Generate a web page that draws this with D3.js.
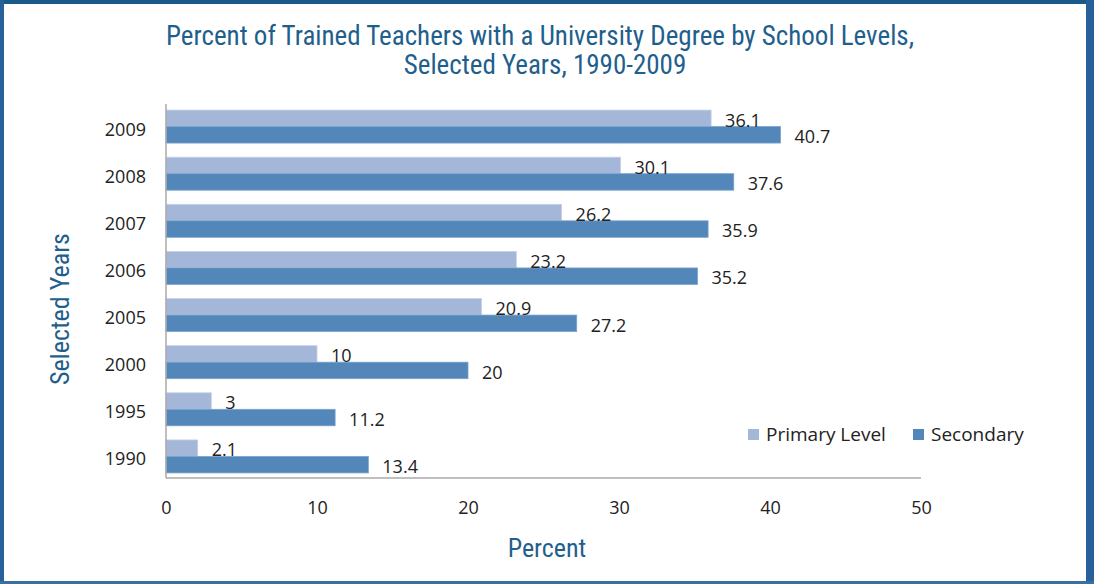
<!DOCTYPE html>
<html>
<head>
<meta charset="utf-8">
<script src="https://cdn.jsdelivr.net/npm/d3@7"></script>
<style>
  body { margin: 0; background: #fff; }
  svg { display: block; }
</style>
</head>
<body>
<svg width="1094" height="584"></svg>
<script>
// data
var years = ['2009', '2008', '2007', '2006', '2005', '2000', '1995', '1990'];
var primary = [36.1, 30.1, 26.2, 23.2, 20.9, 10, 3, 2.1];
var secondary = [40.7, 37.6, 35.9, 35.2, 27.2, 20, 11.2, 13.4];
var seriesNames = ['Primary Level', 'Secondary'];
var xTicks = [0, 10, 20, 30, 40, 50];

var svg = d3.select('svg');
var titleFont = '"Liberation Sans Narrow", "Roboto Condensed", sans-serif';
var labelFont = '"Open Sans", Lato, sans-serif';
var blue = '#1f5f8d';
var colors = ['#a4b7d9', '#5386b9'];

// frame
svg.append('rect').attr('width', 1094).attr('height', 584).attr('fill', '#fff');
svg.append('rect').attr('x', 0).attr('y', 0).attr('width', 1094).attr('height', 4).attr('fill', '#1a5a8a');
svg.append('rect').attr('x', 0).attr('y', 0).attr('width', 4).attr('height', 584).attr('fill', '#28609a');
svg.append('rect').attr('x', 1086).attr('y', 0).attr('width', 8).attr('height', 584).attr('fill', '#28609a');
svg.append('rect').attr('x', 0).attr('y', 581).attr('width', 1094).attr('height', 3).attr('fill', '#3a6fa2');

var x = d3.scaleLinear().domain([0, 50]).range([166, 921]);
var y = d3.scaleBand().domain(years).range([103, 480]).paddingInner(0.3).paddingOuter(0.15);
var inner = d3.scaleBand().domain([0, 1]).range([0, y.bandwidth()]);

var rows = years.map(function(yr, i) {
  return { year: yr, vals: [primary[i], secondary[i]] };
});

var g = svg.selectAll('g.row')
  .data(rows)
  .enter()
  .append('g')
  .attr('class', 'row')
  .attr('transform', function(d) { return 'translate(0,' + y(d.year) + ')'; });

g.selectAll('rect')
  .data(function(d) { return d.vals; })
  .enter()
  .append('rect')
  .attr('x', x(0))
  .attr('y', function(d, i) { return inner(i); })
  .attr('width', function(d) { return x(d) - x(0); })
  .attr('height', inner.bandwidth())
  .attr('fill', function(d, i) { return colors[i]; })
  .attr('stroke', function(d, i) { return i ? '#7aa3cc' : '#c3d0e6'; })
  .attr('stroke-width', 0.8);

g.selectAll('text')
  .data(function(d) { return d.vals; })
  .enter()
  .append('text')
  .attr('x', function(d) { return x(d) + 14; })
  .attr('y', function(d, i) { return inner(i) + inner.bandwidth(); })
  .attr('font-family', labelFont)
  .attr('font-size', 18)
  .attr('fill', '#222')
  .text(function(d) { return d; });

// axes
var xAxis = svg.append('g')
  .attr('transform', 'translate(0,478)')
  .call(d3.axisBottom(x).tickValues(xTicks).tickSize(0).tickPadding(23));
xAxis.select('.domain').remove();
xAxis.selectAll('text').attr('font-family', labelFont).attr('font-size', 18).attr('fill', '#222');

var yAxis = svg.append('g')
  .attr('transform', 'translate(166,0)')
  .call(d3.axisLeft(y).tickSize(0).tickPadding(20));
yAxis.select('.domain').remove();
yAxis.selectAll('text').attr('font-family', labelFont).attr('font-size', 18).attr('fill', '#222')
  .attr('dy', '0.5em');

svg.append('line').attr('x1', 166).attr('x2', 921).attr('y1', 478).attr('y2', 478)
  .attr('stroke', '#aaa').attr('stroke-width', 1.5);
svg.append('line').attr('x1', 166).attr('x2', 166).attr('y1', 104).attr('y2', 478)
  .attr('stroke', '#aaa').attr('stroke-width', 1.5);

// titles
var title = svg.append('text')
  .attr('text-anchor', 'middle')
  .attr('font-family', titleFont)
  .attr('font-size', 27)
  .attr('fill', blue);
title.append('tspan').attr('x', 540).attr('y', 45)
  .text('Percent of Trained Teachers with a University Degree by School Levels,');
title.append('tspan').attr('x', 545).attr('y', 74)
  .text('Selected Years, 1990-2009');

svg.append('text')
  .attr('transform', 'translate(69,309) rotate(-90)')
  .attr('text-anchor', 'middle')
  .attr('font-family', titleFont)
  .attr('font-size', 26)
  .attr('fill', blue)
  .text('Selected Years');

svg.append('text')
  .attr('x', 547).attr('y', 557)
  .attr('text-anchor', 'middle')
  .attr('font-family', titleFont)
  .attr('font-size', 26)
  .attr('fill', blue)
  .text('Percent');

// legend
var legendX = [748, 913];
var leg = svg.selectAll('g.legend')
  .data(seriesNames)
  .enter()
  .append('g')
  .attr('class', 'legend')
  .attr('transform', function(d, i) { return 'translate(' + legendX[i] + ',429)'; });
leg.append('rect')
  .attr('width', 11).attr('height', 11)
  .attr('fill', function(d, i) { return colors[i]; });
leg.append('text')
  .attr('x', 18).attr('y', 12)
  .attr('font-family', labelFont)
  .attr('font-size', 19)
  .attr('fill', '#222')
  .text(function(d) { return d; });
</script>
</body>
</html>
